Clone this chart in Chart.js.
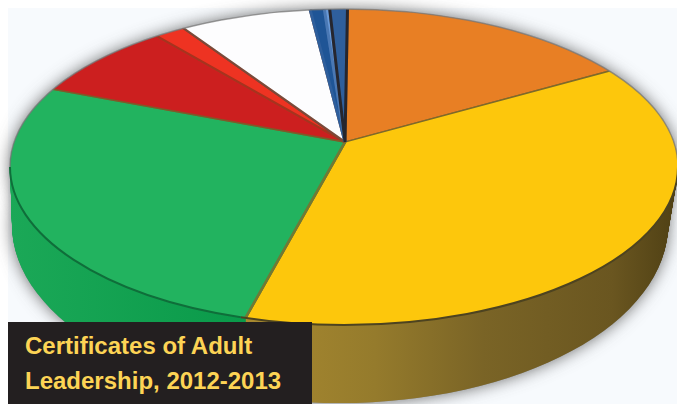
<!DOCTYPE html>
<html>
<head>
<meta charset="utf-8">
<script src="https://cdn.jsdelivr.net/npm/chart.js@4"></script>
<style>
  html, body { margin: 0; padding: 0; background: #fff; }
  .wrap { position: relative; width: 677px; height: 404px; overflow: hidden; }
  .paper { position: absolute; left: 8px; top: 8px; right: 0; bottom: 0; background: #f7fafd; }
  canvas { position: absolute; left: 0; top: 0; filter: blur(0.6px); }
  .title {
    position: absolute; left: 8px; top: 322px; width: 304px; height: 82px;
    background: #231f20; color: #fdd455; box-sizing: border-box; padding: 6px 0 0 17px;
    font: bold 24px/35px "Liberation Sans", Arial, sans-serif;
  }
</style>
</head>
<body>
<div class="wrap">
  <div class="paper"></div>
  <canvas id="pie" width="677" height="404"></canvas>
  <div class="title">Certificates of Adult<br>Leadership, 2012-2013</div>
</div>
<script>
const categories = ["A", "B", "C", "D", "E", "F", "G", "H", "I"];
const shares = [16.6, 37.4, 26.7, 8.1, 1.7, 7.4, 0.8, 0.3, 1.0];
const topColors = ["#e87f24", "#fdc70c", "#22b35f", "#cc1f1f", "#ee3322", "#fdfdfe", "#1f5596", "#6a9ad8", "#2f5f9c"];
const lineColors = ["#a8662a", "#7d6a2a", "#6f7a35", "#7d5a2a", "#a8321e", "#7a4a3a", "#2f5f9c", "#4a78b4", "#26262e"];

// rim of the top face and of the underside, plus the point where the slices meet
const topRim = { x: 344, y: 167, a: 334, b: 158 };
const lowRim = { x: 340, y: 225, a: 328, b: 178 };
const apex = { x: 345, y: 142, drop: 78, sx: 2, sy: 0.94 };

function rimAt(t) {
    return {
        x: topRim.x + (lowRim.x - topRim.x) * t,
        y: topRim.y + (lowRim.y - topRim.y) * t,
        a: topRim.a + (lowRim.a - topRim.a) * t,
        b: topRim.b + (lowRim.b - topRim.b) * t
    };
}

function ellipsePath(ctx, r) {
    ctx.beginPath();
    ctx.ellipse(r.x, r.y, r.a, r.b, 0, 0, Math.PI * 2);
}

function toPie(ctx, arc, t) {
    ctx.translate(apex.x, apex.y + apex.drop * t);
    ctx.scale(apex.sx, apex.sy);
    ctx.translate(-arc.x, -arc.y);
}

function sideColors(ctx, arc) {
    // gradient is given in the chart's own space, so undo the x stretch
    const px = x => arc.x + (x - apex.x) / apex.sx;
    const yellow = ctx.createLinearGradient(px(245), 0, px(677), 0);
    yellow.addColorStop(0, "#a98a30");
    yellow.addColorStop(0.3, "#957b2c");
    yellow.addColorStop(0.55, "#7a6426");
    yellow.addColorStop(0.85, "#6a5620");
    yellow.addColorStop(1, "#4f4014");
    const green = ctx.createLinearGradient(px(10), 0, px(245), 0);
    green.addColorStop(0, "#1ba857");
    green.addColorStop(1, "#0a9a4a");
    return ["#8a5a20", yellow, green, "#8a1414", "#a81f14", "#c8c8c8", "#173f70", "#4a74a8", "#1f4474"];
}

const pie3d = {
    id: "pie3d",
    beforeDatasetsDraw(chart) {
        const ctx = chart.ctx;
        const arcs = chart.getDatasetMeta(0).data;
        const colors = sideColors(ctx, arcs[0]);

        // soft shadow round the disc
        ctx.save();
        ctx.shadowColor = "rgba(70,70,70,0.8)";
        ctx.shadowBlur = 16;
        ctx.fillStyle = "#888";
        ellipsePath(ctx, topRim);
        ctx.fill();
        ellipsePath(ctx, lowRim);
        ctx.fill();
        ctx.restore();

        // stack the slices downward for the side wall
        const steps = 78;
        for (let i = steps; i >= 1; i--) {
            const t = i / steps;
            ctx.save();
            ellipsePath(ctx, rimAt(t));
            ctx.clip();
            toPie(ctx, arcs[0], t);
            arcs.forEach(function (arc, n) {
                const own = arc.options;
                const side = Object.create(own);
                side.backgroundColor = colors[n];
                side.borderWidth = 0;
                arc.options = side;
                arc.draw(ctx);
                arc.options = own;
            });
            ctx.restore();
        }

        ctx.save();
        ellipsePath(ctx, topRim);
        ctx.clip();
        toPie(ctx, arcs[0], 0);
    },
    afterDatasetsDraw(chart) {
        const ctx = chart.ctx;
        ctx.restore();
        // edge of the top face: grey far side, dark brown under yellow, dark green under green
        const edge = function (from, to, color, width) {
            ctx.strokeStyle = color;
            ctx.lineWidth = width;
            ctx.beginPath();
            ctx.ellipse(topRim.x, topRim.y, topRim.a, topRim.b, 0, from, to);
            ctx.stroke();
        };
        ctx.save();
        edge(0, Math.PI * 0.6, "#4d4320", 2);
        edge(Math.PI * 0.6, Math.PI, "#0f6e3a", 2);
        edge(Math.PI, Math.PI * 2, "rgba(120,120,120,0.7)", 1.5);
        ctx.restore();
    }
};

new Chart(document.getElementById("pie"), {
    type: "pie",
    data: {
        labels: categories,
        datasets: [{
            data: shares,
            backgroundColor: topColors,
            borderColor: lineColors,
            borderWidth: 1.5,
            clip: false
        }]
    },
    options: {
        responsive: false,
        animation: false,
        rotation: 0.5,
        layout: { padding: 0 },
        plugins: { legend: { display: false }, tooltip: { enabled: false } }
    },
    plugins: [pie3d]
});
</script>
</body>
</html>
